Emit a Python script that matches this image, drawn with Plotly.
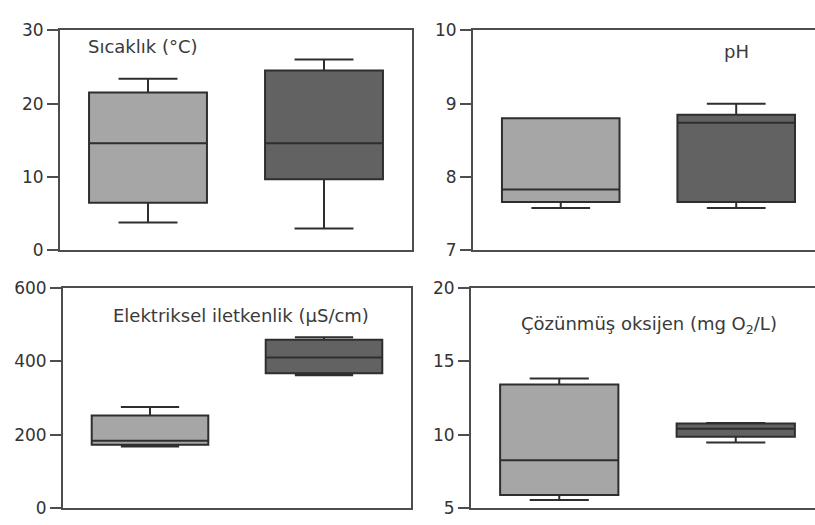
import plotly.graph_objects as go

# Box statistics per panel: [group A, group B]
temp_low = [3.8, 3.0]
temp_q1 = [6.5, 9.7]
temp_med = [14.6, 14.6]
temp_q3 = [21.5, 24.5]
temp_high = [23.4, 26.0]

ph_low = [7.58, 7.58]
ph_q1 = [7.66, 7.66]
ph_med = [7.83, 8.74]
ph_q3 = [8.80, 8.85]
ph_high = [8.80, 9.00]

ec_low = [168, 362]
ec_q1 = [173, 368]
ec_med = [184, 411]
ec_q3 = [253, 459]
ec_high = [276, 466]

do_low = [5.57, 9.47]
do_q1 = [5.90, 9.87]
do_med = [8.27, 10.42]
do_q3 = [13.43, 10.78]
do_high = [13.84, 10.80]

titles = ["Sıcaklık (°C)", "pH", "Elektriksel iletkenlik (µS/cm)",
          "Çözünmüş oksijen (mg O<sub>2</sub>/L)"]
y_ranges = [[0, 30], [7, 10], [0, 600], [5, 20]]
y_ticks = [[0, 10, 20, 30], [7, 8, 9, 10], [0, 200, 400, 600], [5, 10, 15, 20]]

panels = [
    (temp_low, temp_q1, temp_med, temp_q3, temp_high),
    (ph_low, ph_q1, ph_med, ph_q3, ph_high),
    (ec_low, ec_q1, ec_med, ec_q3, ec_high),
    (do_low, do_q1, do_med, do_q3, do_high),
]

fills = ["#a6a6a6", "#626262"]
W, H = 815, 525

# panel rectangles in pixels: left, right, top, bottom
rects = [(60, 412, 21, 250), (473, 815, 21, 250),
         (63, 411, 289, 518), (471, 815, 289, 518)]
x_ranges = [[-0.5, 1.5], [-0.5, 1.449], [-0.5, 1.5], [-0.5, 1.449]]
title_pos = [(143, 38), (736, 43), (241, 318), (649, 327)]

fig = go.Figure()
layout = dict(width=W, height=H, margin=dict(l=0, r=0, t=0, b=0),
              paper_bgcolor="white", plot_bgcolor="white", showlegend=False)

annotations = []
for i, (stats, rect) in enumerate(zip(panels, rects)):
    low, q1, med, q3, high = stats
    xa = "x" if i == 0 else f"x{i + 1}"
    ya = "y" if i == 0 else f"y{i + 1}"
    for g in range(2):
        fig.add_trace(go.Box(
            x=[g], lowerfence=[low[g]], q1=[q1[g]], median=[med[g]],
            q3=[q3[g]], upperfence=[high[g]],
            width=0.67, whiskerwidth=0.5,
            fillcolor=fills[g],
            line=dict(color="#2e2e2e", width=2),
            boxpoints=False, hoverinfo="skip",
            xaxis=xa, yaxis=ya,
        ))
    left, right, top, bottom = rect
    right_side = i in (1, 3)
    xkey = "xaxis" if i == 0 else f"xaxis{i + 1}"
    ykey = "yaxis" if i == 0 else f"yaxis{i + 1}"
    layout[xkey] = dict(
        domain=[left / W, right / W], range=x_ranges[i],
        showline=True, linecolor="#4d4d4d", linewidth=2, mirror=True,
        showticklabels=False, ticks="", showgrid=False, zeroline=False,
        anchor=ya,
    )
    layout[ykey] = dict(
        domain=[1 - bottom / H, 1 - top / H], range=y_ranges[i],
        tickvals=y_ticks[i], ticks="outside", ticklen=11, tickwidth=2,
        tickcolor="#4d4d4d",
        showline=True, linecolor="#4d4d4d", linewidth=2,
        mirror=False if right_side else True,
        showgrid=False, zeroline=False,
        tickfont=dict(family="DejaVu Sans", size=17, color="#333333"),
        anchor=xa,
    )
    tx, ty = title_pos[i]
    annotations.append(dict(
        text=titles[i], x=tx / W, y=1 - ty / H, xref="paper", yref="paper",
        xanchor="center", yanchor="middle", showarrow=False,
        font=dict(family="DejaVu Sans", size=18, color="#3a3a3a"),
    ))

layout["annotations"] = annotations
fig.update_layout(**layout)
fig.write_html("out.html")
